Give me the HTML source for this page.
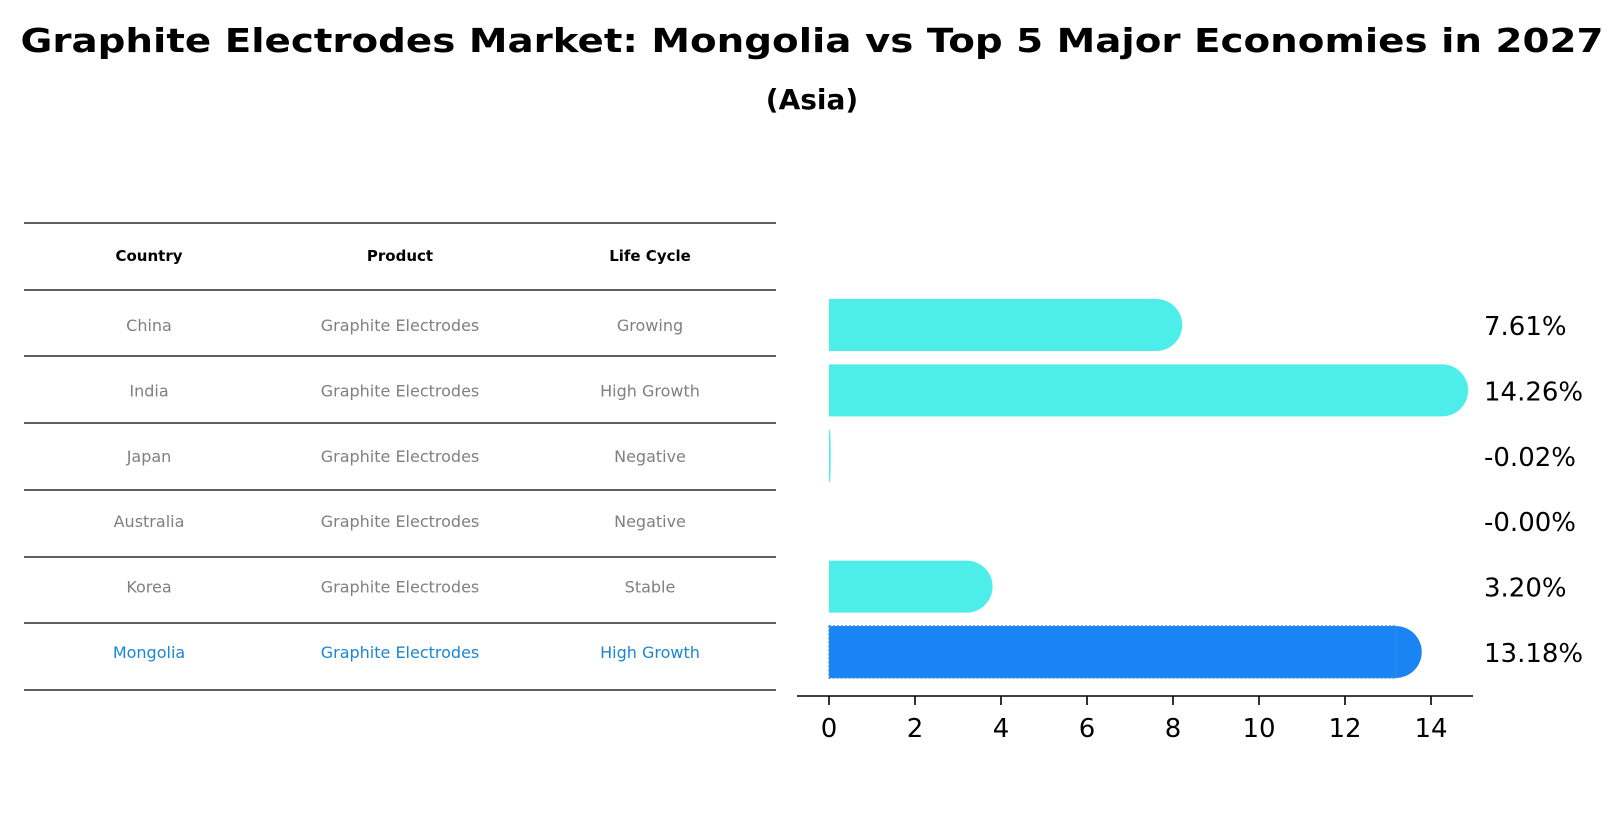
<!DOCTYPE html>
<html><head><meta charset="utf-8"><style>
html,body{margin:0;padding:0;background:#fff;}
svg text{font-family:"DejaVu Sans","Liberation Sans",sans-serif;}
</style></head><body>
<svg id="chart" width="1624" height="823" viewBox="0 0 1624 823" xmlns="http://www.w3.org/2000/svg">
<text x="812" y="52" text-anchor="middle" font-size="33" font-weight="bold" textLength="1583" lengthAdjust="spacingAndGlyphs">Graphite Electrodes Market: Mongolia vs Top 5 Major Economies in 2027</text>
<text x="812" y="109" text-anchor="middle" font-size="28" font-weight="bold">(Asia)</text>
<g id="table"></g>
<g id="bars"></g>
</svg>
<script>
const countries=["China","India","Japan","Australia","Korea","Mongolia"];
const products=["Graphite Electrodes","Graphite Electrodes","Graphite Electrodes","Graphite Electrodes","Graphite Electrodes","Graphite Electrodes"];
const lifeCycles=["Growing","High Growth","Negative","Negative","Stable","High Growth"];
const growth=[7.61,14.26,-0.02,-0.00,3.20,13.18];
const valueLabels=["7.61%","14.26%","-0.02%","-0.00%","3.20%","13.18%"];
const xTicks=[0,2,4,6,8,10,12,14];
const highlight="Mongolia";

const NS="http://www.w3.org/2000/svg";
function mk(tag,attrs,parent){const e=document.createElementNS(NS,tag);for(const k in attrs)e.setAttribute(k,attrs[k]);parent.appendChild(e);return e;}
const xScale=v=>829+v*43;
const rowY=i=>325+i*65.4;

// table
const tbl=document.getElementById('table');
const lineYs=[223,290,356,423,490,557,623,690];
lineYs.forEach((y,i)=>{const l=mk('line',{x1:24,x2:776,y1:y,y2:y,stroke:'#000','stroke-width':1.3},tbl);

});
const colX=[149,400,650];
["Country","Product","Life Cycle"].forEach((h,j)=>{const t=mk('text',{x:colX[j],y:261,'text-anchor':'middle','font-size':15,'font-weight':'bold'},tbl);t.textContent=h;

});
countries.forEach((c,i)=>{
  const col=c===highlight?'#1a86d2':'#808080';
  [c,products[i],lifeCycles[i]].forEach((v,j)=>{
    const t=mk('text',{x:colX[j],y:rowY(i)+6,'text-anchor':'middle','font-size':16,fill:col},tbl);t.textContent=v;
    
    
  });
});

// bars
const g=document.getElementById('bars');
growth.forEach((v,i)=>{
  const cy=rowY(i),h=52,top=cy-h/2,bot=cy+h/2;
  const x0=xScale(0),w=Math.abs(xScale(v)-x0);
  const color=countries[i]===highlight?'#1a84f4':'#4deee9';
  if(w>0.05){
    const r=Math.min(26,w);
    const xv=x0+w;
    const p=mk('path',{d:`M${x0},${top} H${xv} A${r},${h/2} 0 0 1 ${xv},${bot} H${x0} Z`,fill:color},g);
    
    
    if(countries[i]===highlight){
      const b=mk('rect',{x:x0,y:top,width:w,height:h,fill:'none',stroke:'#3a8fd8','stroke-width':1.5,'stroke-dasharray':'2,2'},g);
      
      
    }
  }
  const t=mk('text',{x:1484,y:cy+10,'font-size':26,fill:'#000'},g);
  t.textContent=valueLabels[i];
  
  
});
const ax=mk('line',{x1:797,x2:1473,y1:696,y2:696,stroke:'#000','stroke-width':1.6},g);


xTicks.forEach(v=>{
  const tk=mk('line',{x1:xScale(v),x2:xScale(v),y1:696,y2:705,stroke:'#000','stroke-width':1.6},g);
  
  
  const t=mk('text',{x:xScale(v),y:737,'text-anchor':'middle','font-size':26},g);
  t.textContent=v;
  
  
});
</script>
</body></html>
